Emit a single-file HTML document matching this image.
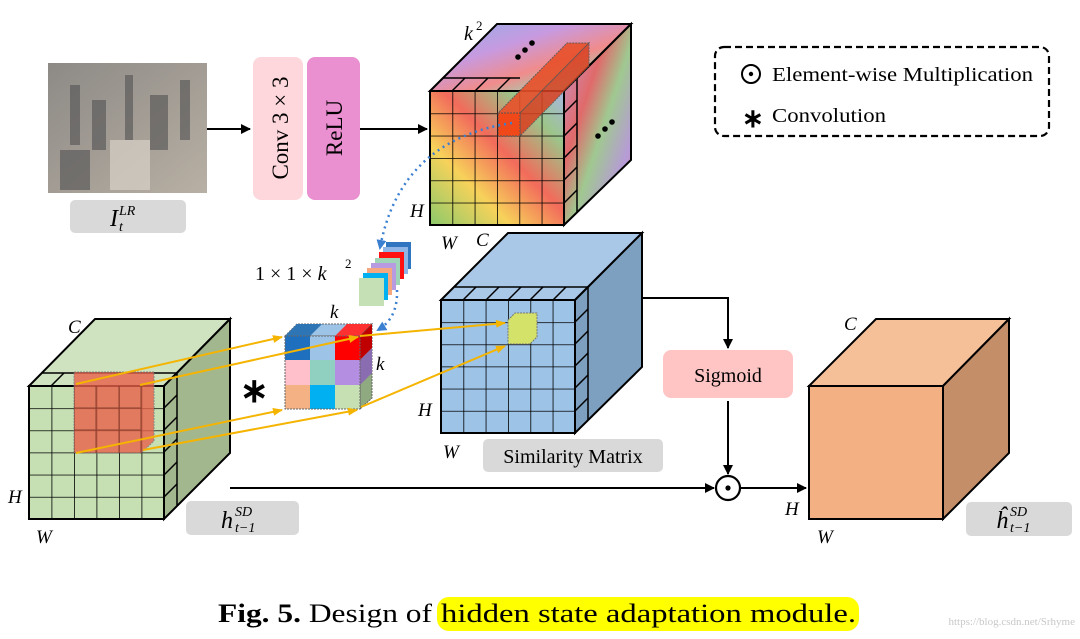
<!DOCTYPE html>
<html><head><meta charset="utf-8"><style>
html,body{margin:0;padding:0;background:#fff;width:1080px;height:639px;overflow:hidden}
svg{display:block}
text{font-family:"Liberation Serif",serif}
.it{font-style:italic}
</style></head><body>
<svg width="1080" height="639" viewBox="0 0 1080 639" xmlns="http://www.w3.org/2000/svg">
<defs>
<pattern id="g1" x="430" y="91" width="22.33" height="22.33" patternUnits="userSpaceOnUse"><path d="M0 0H22.33M0 0V22.33" stroke="#000" stroke-width="1.6" fill="none"/></pattern>
<pattern id="g2" x="441" y="300" width="22.33" height="22.17" patternUnits="userSpaceOnUse"><path d="M0 0H22.33M0 0V22.17" stroke="#000" stroke-width="1.6" fill="none"/></pattern>
<pattern id="g3" x="29" y="386" width="22.5" height="22.17" patternUnits="userSpaceOnUse"><path d="M0 0H22.5M0 0V22.17" stroke="#000" stroke-width="1.6" fill="none"/></pattern>
<linearGradient id="rb" x1="0" y1="1" x2="1" y2="0">
<stop offset="0" stop-color="#8cc96b"/><stop offset="0.3" stop-color="#f7d25a"/><stop offset="0.55" stop-color="#f26b5b"/><stop offset="0.8" stop-color="#9cc58a"/><stop offset="1" stop-color="#a9b8e6"/></linearGradient>
<linearGradient id="rt" x1="0" y1="0" x2="1" y2="1">
<stop offset="0" stop-color="#8fb0e8"/><stop offset="0.35" stop-color="#c79ae0"/><stop offset="0.6" stop-color="#f08c8c"/><stop offset="0.8" stop-color="#9dd4b0"/><stop offset="1" stop-color="#9ab2e0"/></linearGradient>
<linearGradient id="rs" x1="0" y1="0" x2="1" y2="1">
<stop offset="0" stop-color="#c49ad8"/><stop offset="0.35" stop-color="#e06a6a"/><stop offset="0.55" stop-color="#a0c890"/><stop offset="0.8" stop-color="#b79ad8"/><stop offset="1" stop-color="#e08b70"/></linearGradient>
<linearGradient id="ph" x1="0" y1="0" x2="1" y2="1">
<stop offset="0" stop-color="#8d8a86"/><stop offset="0.5" stop-color="#a29c94"/><stop offset="1" stop-color="#b8b0a4"/></linearGradient>
<marker id="ab" markerWidth="10" markerHeight="10" refX="9" refY="5" orient="auto" markerUnits="userSpaceOnUse"><path d="M0 0L10 5L0 10z" fill="#000"/></marker>
<marker id="ay" markerWidth="10" markerHeight="8" refX="9" refY="4" orient="auto" markerUnits="userSpaceOnUse"><path d="M0 0L10 4L0 8z" fill="#f5b400"/></marker>
<marker id="abl" markerWidth="10" markerHeight="10" refX="8" refY="5" orient="auto" markerUnits="userSpaceOnUse"><path d="M0 0L10 5L0 10z" fill="#3a7fd0"/></marker>
</defs>

<!-- photo -->
<rect x="48" y="63" width="159" height="130" fill="url(#ph)"/>
<g fill="#5d5c5c" opacity="0.7">
<rect x="70" y="85" width="10" height="60"/><rect x="92" y="100" width="14" height="50"/><rect x="125" y="75" width="8" height="70"/><rect x="150" y="95" width="18" height="55"/><rect x="180" y="80" width="10" height="60"/><rect x="60" y="150" width="30" height="40"/><rect x="110" y="140" width="40" height="50" fill="#d8d2c8"/>
</g>
<rect x="70" y="200" width="116" height="33" rx="5" fill="#d9d9d9"/>
<text x="110" y="226" font-size="24" class="it">I</text><text x="119" y="215" font-size="14" class="it">LR</text><text x="119" y="231" font-size="14" class="it">t</text>

<rect x="253" y="57" width="50" height="143" rx="8" fill="#fdd7db"/>
<rect x="307" y="57" width="53" height="143" rx="8" fill="#ea8fd0"/>
<text transform="translate(288,128) rotate(-90)" text-anchor="middle" font-size="23">Conv 3 × 3</text>
<text transform="translate(342,128) rotate(-90)" text-anchor="middle" font-size="23">ReLU</text>
<line x1="207" y1="129" x2="250" y2="129" stroke="#000" stroke-width="2" marker-end="url(#ab)"/>
<line x1="360" y1="129" x2="427" y2="129" stroke="#000" stroke-width="2" marker-end="url(#ab)"/>

<!-- kernel cube -->
<polygon points="430,91 497,24 631,24 564,91" fill="url(#rt)" stroke="#000" stroke-width="2"/>
<polygon points="564,91 631,24 631,160 564,225" fill="url(#rs)" stroke="#000" stroke-width="2"/>
<rect x="430" y="91" width="134" height="134" fill="url(#rb)"/>
<rect x="430" y="91" width="134" height="134" fill="url(#g1)" stroke="#000" stroke-width="2"/>
<g stroke="#000" stroke-width="1.5"><line x1="452" y1="91" x2="465" y2="78"/><line x1="475" y1="91" x2="488" y2="78"/><line x1="497" y1="91" x2="510" y2="78"/><line x1="430" y1="91" x2="443" y2="78"/><line x1="443" y1="78" x2="520" y2="78"/>
<line x1="564" y1="113" x2="577" y2="100"/><line x1="564" y1="136" x2="577" y2="123"/><line x1="564" y1="158" x2="577" y2="145"/><line x1="564" y1="180" x2="577" y2="167"/><line x1="564" y1="203" x2="577" y2="190"/><line x1="577" y1="78" x2="577" y2="212"/></g>
<polygon points="498,113 520,113 589,43 567,43" fill="#e8502a" opacity="0.9" stroke="#555" stroke-dasharray="2,1"/>
<polygon points="520,113 520,136 589,66 589,43" fill="#d94020" opacity="0.85" stroke="#555" stroke-dasharray="2,1"/>
<rect x="498" y="113" width="22" height="23" fill="#f04818" stroke="#555" stroke-dasharray="2,1"/>
<text x="464" y="40" font-size="20" class="it">k</text><text x="476" y="30" font-size="13">2</text>
<g fill="#000">
<circle cx="518" cy="57" r="2.8"/><circle cx="525" cy="50" r="2.8"/><circle cx="532" cy="43" r="2.8"/>
<circle cx="598" cy="136" r="2.8"/><circle cx="605" cy="129" r="2.8"/><circle cx="612" cy="122" r="2.8"/>
<circle cx="545" cy="267" r="2.8"/><circle cx="551" cy="260" r="2.8"/><circle cx="557" cy="253" r="2.8"/>
<circle cx="605" cy="345" r="2.8"/><circle cx="612" cy="338" r="2.8"/><circle cx="619" cy="331" r="2.8"/>
<circle cx="131" cy="351" r="2.8"/><circle cx="138" cy="344" r="2.8"/><circle cx="145" cy="337" r="2.8"/>
<circle cx="198" cy="428" r="2.8"/><circle cx="204" cy="421" r="2.8"/><circle cx="211" cy="415" r="2.8"/>
</g>
<text x="410" y="217" font-size="19" class="it">H</text>
<text x="441" y="249" font-size="19" class="it">W</text>

<!-- dotted blue curve -->
<path d="M512 123 Q400 140 380 248" stroke="#3a7fd0" stroke-width="2.5" stroke-dasharray="2,4" fill="none" marker-end="url(#abl)"/>
<path d="M397 290 Q398 318 378 330" stroke="#3a7fd0" stroke-width="2.5" stroke-dasharray="2,4" fill="none" marker-end="url(#abl)"/>

<!-- filter stack -->
<rect x="386" y="242" width="25" height="27" fill="#2f75c0"/><rect x="383" y="247" width="25" height="27" fill="#8fb4e6"/>
<rect x="379" y="252" width="25" height="27" fill="#ff1010"/><rect x="375" y="258" width="25" height="27" fill="#9fd4b8"/>
<rect x="371" y="263" width="25" height="27" fill="#b89ae0"/><rect x="367" y="268" width="25" height="27" fill="#f5a880"/>
<rect x="363" y="273" width="25" height="27" fill="#00b0f0"/><rect x="359" y="278" width="25" height="28" fill="#c5e0b4"/>
<text x="255" y="280" font-size="20">1 × 1 × <tspan class="it">k</tspan></text><text x="345" y="268" font-size="13">2</text>

<!-- similarity cube -->
<polygon points="441,300 508,233 642,233 575,300" fill="#a9c7e6" stroke="#000" stroke-width="2"/>
<polygon points="575,300 642,233 642,367 575,433" fill="#7d9fc0" stroke="#000" stroke-width="2"/>
<rect x="441" y="300" width="134" height="133" fill="#9dc3e6"/>
<rect x="441" y="300" width="134" height="133" fill="url(#g2)" stroke="#000" stroke-width="2"/>
<g stroke="#000" stroke-width="1.5"><line x1="454" y1="287" x2="588" y2="287"/>
<line x1="441" y1="300" x2="454" y2="287"/><line x1="463" y1="300" x2="476" y2="287"/><line x1="486" y1="300" x2="499" y2="287"/><line x1="508" y1="300" x2="521" y2="287"/><line x1="530" y1="300" x2="543" y2="287"/><line x1="553" y1="300" x2="566" y2="287"/>
<line x1="575" y1="322" x2="588" y2="309"/><line x1="575" y1="344" x2="588" y2="331"/><line x1="575" y1="366" x2="588" y2="353"/><line x1="575" y1="388" x2="588" y2="375"/><line x1="575" y1="411" x2="588" y2="398"/><line x1="588" y1="287" x2="588" y2="420"/></g>
<polygon points="508,320 515,313 537,313 537,337 530,344 508,344" fill="#d4e26a" stroke="#777" stroke-dasharray="2,1"/>
<text x="476" y="246" font-size="19" class="it">C</text>
<text x="418" y="416" font-size="19" class="it">H</text>
<text x="443" y="458" font-size="19" class="it">W</text>
<rect x="483" y="439" width="180" height="33" rx="5" fill="#d9d9d9"/>
<text x="573" y="463" font-size="20" text-anchor="middle">Similarity Matrix</text>

<!-- green cube -->
<polygon points="29,386 95,319 230,319 164,386" fill="#cfe3c0" stroke="#000" stroke-width="2"/>
<polygon points="164,386 230,319 230,453 164,519" fill="#a3b78f" stroke="#000" stroke-width="2"/>
<rect x="29" y="386" width="135" height="133" fill="#c6e0b4"/>
<rect x="29" y="386" width="135" height="133" fill="url(#g3)" stroke="#000" stroke-width="2"/>
<g stroke="#000" stroke-width="1.5"><line x1="42" y1="373" x2="177" y2="373"/>
<line x1="29" y1="386" x2="42" y2="373"/><line x1="51" y1="386" x2="64" y2="373"/>
<line x1="164" y1="408" x2="177" y2="395"/><line x1="164" y1="430" x2="177" y2="417"/><line x1="164" y1="452" x2="177" y2="439"/><line x1="164" y1="475" x2="177" y2="462"/><line x1="164" y1="497" x2="177" y2="484"/><line x1="177" y1="373" x2="177" y2="506"/></g>
<polygon points="74,372 154,372 154,441 141,453 74,453" fill="#e8614a" opacity="0.8" stroke="#777" stroke-dasharray="2,1"/>
<g stroke="#6a3020" stroke-width="1.2" opacity="0.6"><line x1="96" y1="386" x2="96" y2="453"/><line x1="119" y1="386" x2="119" y2="453"/><line x1="74" y1="408" x2="141" y2="408"/><line x1="74" y1="430" x2="141" y2="430"/><line x1="141" y1="386" x2="141" y2="453"/></g>
<text x="68" y="333" font-size="19" class="it">C</text>
<text x="8" y="503" font-size="19" class="it">H</text>
<text x="36" y="543" font-size="19" class="it">W</text>
<rect x="186" y="501" width="113" height="34" rx="5" fill="#d9d9d9"/>
<text x="221" y="528" font-size="24" class="it">h</text><text x="235" y="516" font-size="14" class="it">SD</text><text x="235" y="532" font-size="14" class="it">t−1</text>

<!-- small kernel cube -->
<polygon points="285,336 297,324 372,324 360,336" fill="#9dc3e6" stroke="#666" stroke-dasharray="2,1"/>
<polygon points="297,324 322,324 310,336 285,336" fill="#2e75b6"/>
<polygon points="347,324 372,324 360,336 335,336" fill="#ff3030"/>
<polygon points="360,336 372,324 372,398 360,409" fill="#8faa80" stroke="#666" stroke-dasharray="2,1"/>
<polygon points="360,336 372,324 372,348 360,360" fill="#c00000"/>
<polygon points="360,360 372,348 372,373 360,385" fill="#8a6cb0"/>
<rect x="285" y="336" width="25" height="24" fill="#1f6fbf"/><rect x="310" y="336" width="25" height="24" fill="#9dc3e6"/><rect x="335" y="336" width="25" height="24" fill="#ff0000"/>
<rect x="285" y="360" width="25" height="25" fill="#ffc0cb"/><rect x="310" y="360" width="25" height="25" fill="#8fd0c0"/><rect x="335" y="360" width="25" height="25" fill="#b48ee0"/>
<rect x="285" y="385" width="25" height="24" fill="#f4b183"/><rect x="310" y="385" width="25" height="24" fill="#00b0f0"/><rect x="335" y="385" width="25" height="24" fill="#c6e0b4"/>
<rect x="285" y="336" width="75" height="73" fill="none" stroke="#666" stroke-dasharray="2,1"/>
<text x="330" y="318" font-size="19" class="it">k</text>
<text x="376" y="370" font-size="19" class="it">k</text>
<text x="240" y="402" font-size="34" font-weight="bold">∗</text>

<!-- yellow arrows -->
<g stroke="#f5b400" stroke-width="2" fill="none">
<line x1="76" y1="384" x2="282" y2="337" marker-end="url(#ay)"/>
<line x1="140" y1="385" x2="358" y2="337" marker-end="url(#ay)"/>
<line x1="76" y1="453" x2="282" y2="410" marker-end="url(#ay)"/>
<line x1="143" y1="450" x2="357" y2="410" marker-end="url(#ay)"/>
<line x1="360" y1="336" x2="505" y2="323" marker-end="url(#ay)"/>
<line x1="361" y1="407" x2="505" y2="346" marker-end="url(#ay)"/>
</g>

<!-- right flow -->
<path d="M642 298 H728 V348" stroke="#000" stroke-width="2" fill="none" marker-end="url(#ab)"/>
<rect x="663" y="350" width="130" height="48" rx="8" fill="#ffc5c5"/>
<text x="728" y="382" font-size="20" text-anchor="middle">Sigmoid</text>
<line x1="728" y1="401" x2="728" y2="474" stroke="#000" stroke-width="2" marker-end="url(#ab)"/>
<line x1="230" y1="488" x2="714" y2="488" stroke="#000" stroke-width="2" marker-end="url(#ab)"/>
<circle cx="728" cy="488" r="12" fill="#fff" stroke="#000" stroke-width="2.2"/><circle cx="728" cy="488" r="2.6" fill="#000"/>
<line x1="740" y1="488" x2="806" y2="488" stroke="#000" stroke-width="2" marker-end="url(#ab)"/>

<!-- output cube -->
<polygon points="809,386 876,319 1009,319 943,386" fill="#f5bf98" stroke="#000" stroke-width="2"/>
<polygon points="943,386 1009,319 1009,453 943,519" fill="#c48e68" stroke="#000" stroke-width="2"/>
<rect x="809" y="386" width="134" height="133" fill="#f3b083" stroke="#000" stroke-width="2"/>
<text x="844" y="330" font-size="19" class="it">C</text>
<text x="785" y="515" font-size="19" class="it">H</text>
<text x="817" y="543" font-size="19" class="it">W</text>
<rect x="966" y="502" width="106" height="34" rx="5" fill="#d9d9d9"/>
<text x="996" y="528" font-size="24" class="it">ĥ</text><text x="1010" y="516" font-size="14" class="it">SD</text><text x="1010" y="532" font-size="14" class="it">t−1</text>

<!-- legend -->
<rect x="715" y="47" width="334" height="89" rx="9" fill="none" stroke="#000" stroke-width="2.2" stroke-dasharray="7,4"/>
<circle cx="751" cy="74" r="9" fill="none" stroke="#000" stroke-width="2"/><circle cx="751" cy="74" r="2.2" fill="#000"/>
<text x="772" y="81" font-size="20" textLength="261" lengthAdjust="spacingAndGlyphs">Element-wise Multiplication</text>
<text x="742" y="127" font-size="26" font-weight="bold">∗</text>
<text x="772" y="122" font-size="20" textLength="114" lengthAdjust="spacingAndGlyphs">Convolution</text>

<!-- caption -->
<rect x="437" y="597" width="422" height="34" rx="12" fill="#ffff00"/>
<text x="218" y="622" font-size="26" textLength="214" lengthAdjust="spacingAndGlyphs"><tspan font-weight="bold">Fig. 5.</tspan> Design of</text>
<text x="441" y="622" font-size="26" textLength="415" lengthAdjust="spacingAndGlyphs">hidden state adaptation module.</text>
<text x="1075" y="625" font-size="11" fill="#c8c8c8" text-anchor="end" font-family="Liberation Sans, sans-serif">https://blog.csdn.net/Srhyme</text>
</svg>
</body></html>
